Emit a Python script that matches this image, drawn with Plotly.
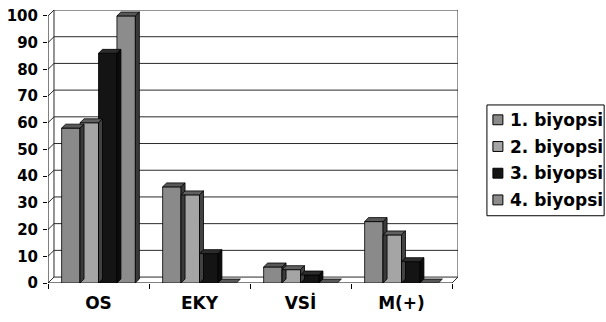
import plotly.graph_objects as go

# ---- data -------------------------------------------------------------
categories = ["OS", "EKY", "VSİ", "M(+)"]
series_names = ["1. biyopsi", "2. biyopsi", "3. biyopsi", "4. biyopsi"]
biyopsi_1 = [58, 36, 6, 23]
biyopsi_2 = [60, 33, 5, 18]
biyopsi_3 = [86, 11, 3, 8]
biyopsi_4 = [100, 0, 0, 0]
y_ticks = list(range(0, 101, 10))

series_values = [biyopsi_1, biyopsi_2, biyopsi_3, biyopsi_4]

# ---- styling ----------------------------------------------------------
front_colors = ["#8a8a8a", "#a5a5a5", "#141414", "#8c8c8c"]
top_colors = ["#585858", "#606060", "#2c2c2c", "#585858"]
side_colors = ["#3a3a3a", "#424242", "#0c0c0c", "#3a3a3a"]
FONT = "DejaVu Sans"
GRID = "#2a2a2a"

W, H = 606, 322
M_L, M_T, M_B = 47, 7, 39
n_cat = len(categories)

# pixel scales of the front plane
px_per_x = 405 / n_cat
px_per_y = 2.7
# depth of the walls and of the bars, expressed in axis units
WX, WY = 6 / px_per_x, 6 / px_per_y
BX, BY = 4 / px_per_x, 4 / px_per_y

x_range = [-0.5, n_cat - 0.5 + WX]
y_max = y_ticks[-1]
y_range = [0, y_max + WY]

bargap = 0.27
bar_w = (1 - bargap) / len(series_values)

plot_w = (x_range[1] - x_range[0]) * px_per_x
plot_h = H - M_T - M_B

fig = go.Figure()
for i, (name, vals) in enumerate(zip(series_names, series_values)):
    fig.add_trace(go.Bar(
        name=name,
        x=categories,
        y=vals,
        marker=dict(color=front_colors[i], line=dict(color="#000000", width=0.8)),
    ))

shapes = []
annotations = []


def line(x0, y0, x1, y1, color=GRID, width=1, layer="below"):
    shapes.append(dict(type="line", xref="x", yref="y", x0=x0, y0=y0, x1=x1, y1=y1,
                       line=dict(color=color, width=width), layer=layer))


def poly(points, fill, layer="above"):
    path = "M " + " L ".join(f"{px},{py}" for px, py in points) + " Z"
    shapes.append(dict(type="path", xref="x", yref="y", path=path, fillcolor=fill,
                       line=dict(color="#000000", width=0.8), layer=layer))


# back wall, left wall and floor edges
left, right = -0.5, n_cat - 0.5
for v in y_ticks:
    line(left, v, left + WX, v + WY)
    line(left + WX, v + WY, right + WX, v + WY)
line(left + WX, WY, left + WX, y_max + WY)
line(right + WX, WY, right + WX, y_max + WY)
line(right, 0, right + WX, WY)
# front axis lines
line(left, 0, left, y_max, color="#000000")
line(left, 0, right, 0, color="#000000")

# 3-D top and side faces of every bar
for i, vals in enumerate(series_values):
    for c, v in enumerate(vals):
        x0 = c - (1 - bargap) / 2 + i * bar_w
        x1 = x0 + bar_w
        poly([(x0, v), (x1, v), (x1 + BX, v + BY), (x0 + BX, v + BY)], top_colors[i])
        if v > 0:
            poly([(x1, 0), (x1, v), (x1 + BX, v + BY), (x1 + BX, BY)], side_colors[i])


# ---- legend box (paper coordinates, measured from the plot area) -------
def px_x(p):
    return (p - M_L) / plot_w


def px_y(p):
    return (H - M_B - p) / plot_h


shapes.append(dict(type="rect", xref="paper", yref="paper",
                   x0=px_x(487), x1=px_x(604.5), y0=px_y(215), y1=px_y(103),
                   line=dict(color="#000000", width=1), fillcolor="#ffffff"))
legend_top, legend_step = 118, 27
for i, name in enumerate(series_names):
    cy = legend_top + i * legend_step
    shapes.append(dict(type="rect", xref="paper", yref="paper",
                       x0=px_x(493), x1=px_x(503), y0=px_y(cy + 5), y1=px_y(cy - 5),
                       line=dict(color="#000000", width=1), fillcolor=front_colors[i]))
    annotations.append(dict(xref="paper", yref="paper", x=px_x(508), y=px_y(cy),
                            xanchor="left", yanchor="middle", showarrow=False,
                            text=name,
                            font=dict(family=FONT, size=17, color="#000000", weight="bold")))

fig.update_layout(
    width=W,
    height=H,
    margin=dict(l=M_L, r=W - M_L - plot_w, t=M_T, b=M_B, pad=0),
    paper_bgcolor="#ffffff",
    plot_bgcolor="#ffffff",
    barmode="group",
    bargap=bargap,
    bargroupgap=0,
    shapes=shapes,
    annotations=annotations,
    showlegend=False,
    xaxis=dict(
        type="category",
        range=x_range,
        showgrid=False,
        showline=False,
        zeroline=False,
        ticks="outside",
        tickson="boundaries",
        ticklen=5,
        tickcolor="#000000",
        ticklabelstandoff=8,
        tickfont=dict(family=FONT, size=17, color="#000000", weight="bold"),
    ),
    yaxis=dict(
        range=y_range,
        tickvals=y_ticks,
        showgrid=False,
        showline=False,
        zeroline=False,
        ticks="outside",
        ticklen=4,
        tickcolor="#000000",
        ticklabelstandoff=2,
        tickfont=dict(family=FONT, size=15, color="#000000", weight="bold"),
    ),
)

fig.write_html("out.html")
